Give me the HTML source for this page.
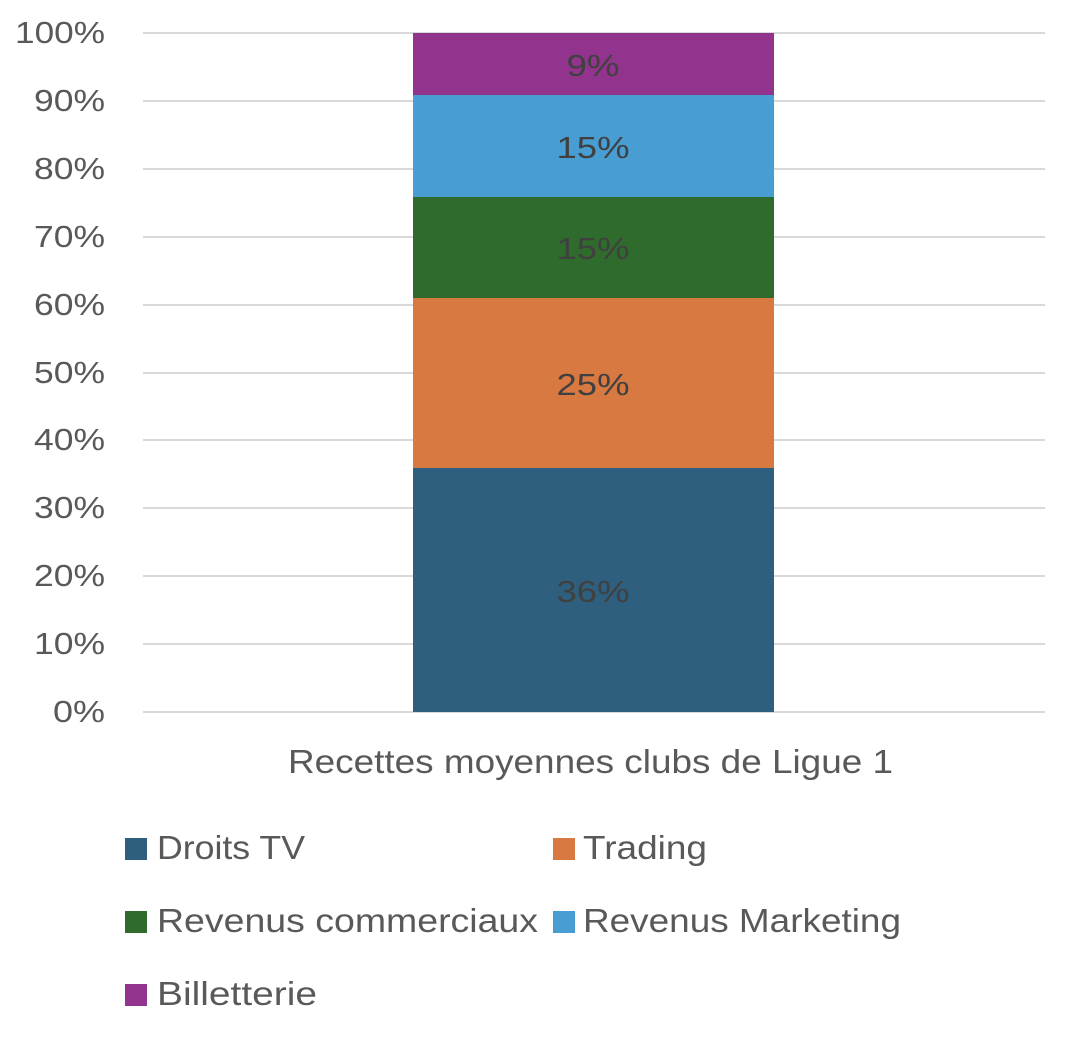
<!DOCTYPE html>
<html><head><meta charset="utf-8"><style>
html,body{margin:0;padding:0;background:#fff;}
svg{display:block;font-family:"Liberation Sans",Arial,sans-serif;}
</style></head><body>
<svg width="1070" height="1042" viewBox="0 0 1070 1042" xmlns="http://www.w3.org/2000/svg">
<g stroke="#d9d9d9" stroke-width="2">
<line x1="143" x2="1045" y1="33" y2="33"/>
<line x1="143" x2="1045" y1="101" y2="101"/>
<line x1="143" x2="1045" y1="169" y2="169"/>
<line x1="143" x2="1045" y1="237" y2="237"/>
<line x1="143" x2="1045" y1="305" y2="305"/>
<line x1="143" x2="1045" y1="373" y2="373"/>
<line x1="143" x2="1045" y1="440" y2="440"/>
<line x1="143" x2="1045" y1="508" y2="508"/>
<line x1="143" x2="1045" y1="576" y2="576"/>
<line x1="143" x2="1045" y1="644" y2="644"/>
<line x1="143" x2="1045" y1="712" y2="712"/>
</g>
<g fill="#595959" font-size="31" text-anchor="end" lengthAdjust="spacingAndGlyphs">
<text x="105" y="43" textLength="90" lengthAdjust="spacingAndGlyphs">100%</text>
<text x="105" y="111" textLength="71" lengthAdjust="spacingAndGlyphs">90%</text>
<text x="105" y="179" textLength="71" lengthAdjust="spacingAndGlyphs">80%</text>
<text x="105" y="247" textLength="71" lengthAdjust="spacingAndGlyphs">70%</text>
<text x="105" y="315" textLength="71" lengthAdjust="spacingAndGlyphs">60%</text>
<text x="105" y="383" textLength="71" lengthAdjust="spacingAndGlyphs">50%</text>
<text x="105" y="450" textLength="71" lengthAdjust="spacingAndGlyphs">40%</text>
<text x="105" y="518" textLength="71" lengthAdjust="spacingAndGlyphs">30%</text>
<text x="105" y="586" textLength="71" lengthAdjust="spacingAndGlyphs">20%</text>
<text x="105" y="654" textLength="71" lengthAdjust="spacingAndGlyphs">10%</text>
<text x="105" y="722" textLength="52" lengthAdjust="spacingAndGlyphs">0%</text>
</g>
<rect x="413" y="468" width="361" height="244" fill="#2E5F7F"/>
<rect x="413" y="298" width="361" height="170" fill="#D97942"/>
<rect x="413" y="197" width="361" height="101" fill="#306B2E"/>
<rect x="413" y="95" width="361" height="102" fill="#489DD3"/>
<rect x="413" y="33" width="361" height="62" fill="#92348E"/>
<g fill="#404040" font-size="31" text-anchor="middle">
<text x="593" y="602" textLength="73" lengthAdjust="spacingAndGlyphs">36%</text>
<text x="593" y="395" textLength="73" lengthAdjust="spacingAndGlyphs">25%</text>
<text x="593" y="259" textLength="73" lengthAdjust="spacingAndGlyphs">15%</text>
<text x="593" y="158" textLength="73" lengthAdjust="spacingAndGlyphs">15%</text>
<text x="593" y="76" textLength="53" lengthAdjust="spacingAndGlyphs">9%</text>
</g>
<text x="288" y="773" fill="#595959" font-size="33" textLength="605" lengthAdjust="spacingAndGlyphs">Recettes moyennes clubs de Ligue 1</text>
<g font-size="33" fill="#595959">
<rect x="125" y="838" width="22" height="22" fill="#2E5F7F"/><text x="157" y="859" textLength="148" lengthAdjust="spacingAndGlyphs">Droits TV</text>
<rect x="553" y="838" width="22" height="22" fill="#D97942"/><text x="583" y="859" textLength="124" lengthAdjust="spacingAndGlyphs">Trading</text>
<rect x="125" y="911" width="22" height="22" fill="#306B2E"/><text x="157" y="932" textLength="381" lengthAdjust="spacingAndGlyphs">Revenus commerciaux</text>
<rect x="553" y="911" width="22" height="22" fill="#489DD3"/><text x="583" y="932" textLength="318" lengthAdjust="spacingAndGlyphs">Revenus Marketing</text>
<rect x="125" y="984" width="22" height="22" fill="#92348E"/><text x="157" y="1005" textLength="160" lengthAdjust="spacingAndGlyphs">Billetterie</text>
</g>
</svg>
</body></html>
